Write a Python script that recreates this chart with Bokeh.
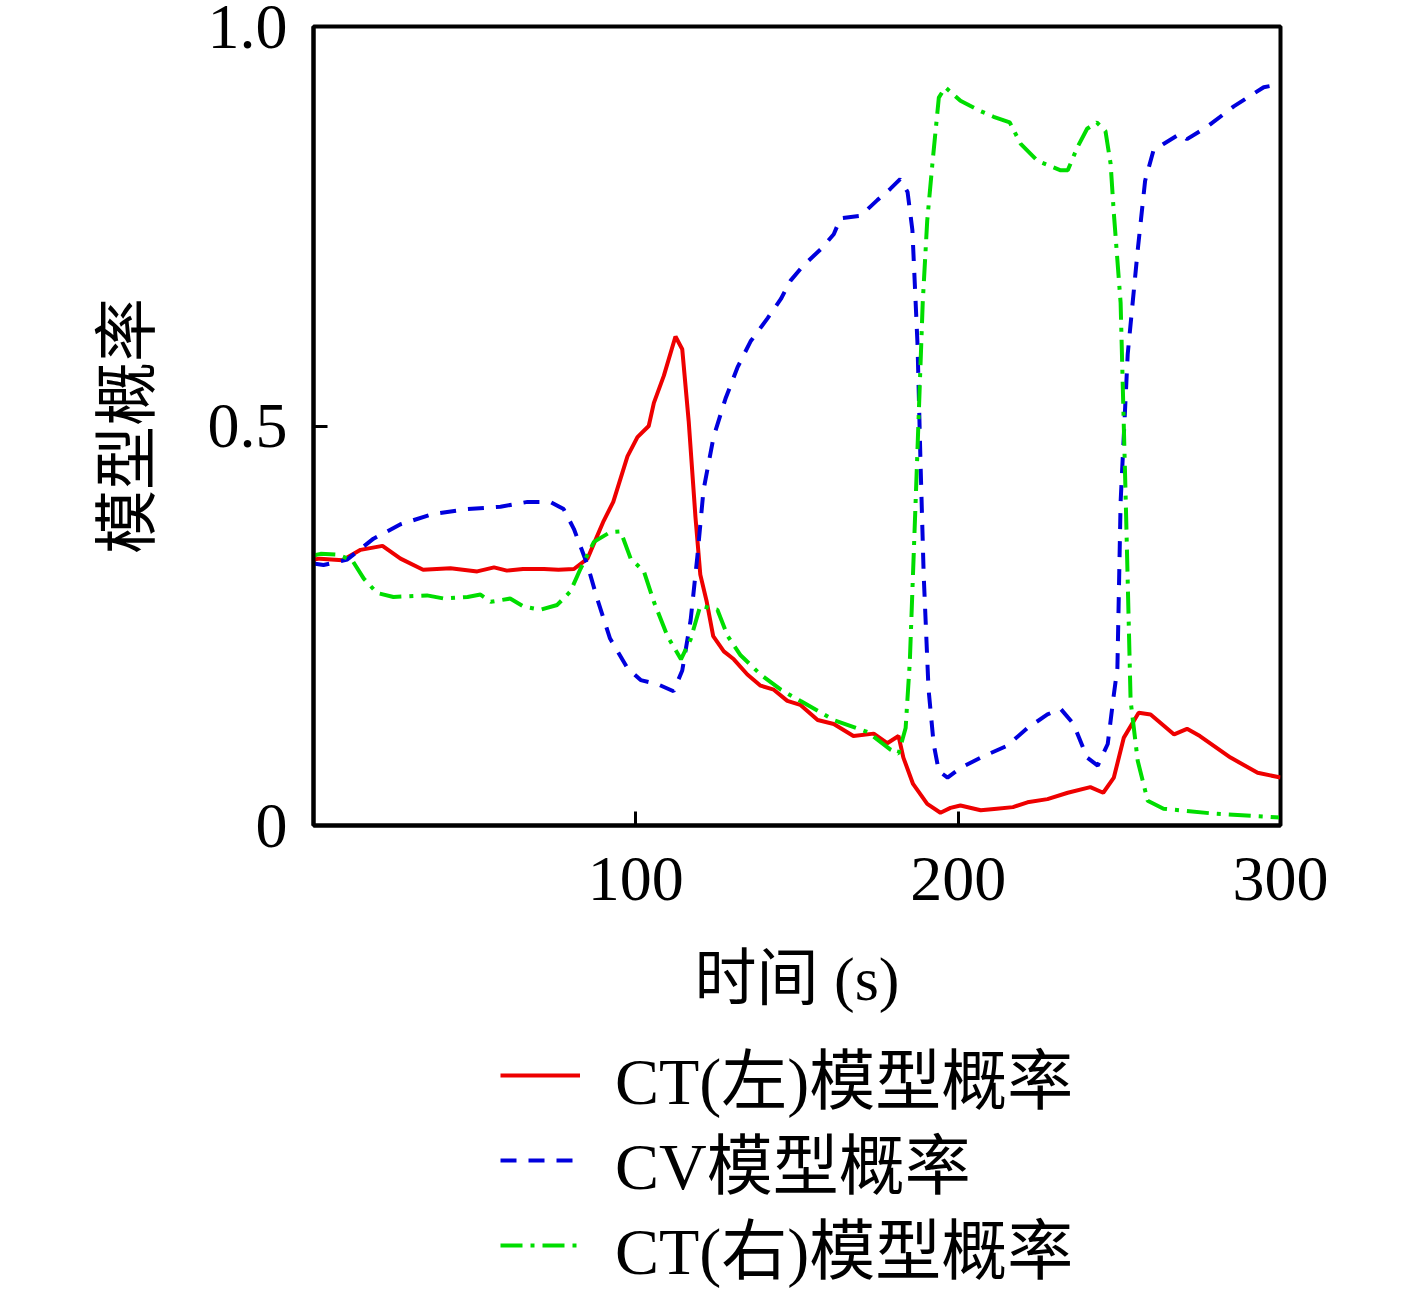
from bokeh.plotting import figure
from bokeh.layouts import column
from bokeh.models import Range1d, FixedTicker, Legend, LegendItem
from bokeh.embed import file_html
from bokeh.resources import INLINE

# ---- data ----
ct_left_x = [0, 2, 9, 14.6, 21.4, 27, 34, 42.5, 50.8, 56, 60, 65, 71.5, 76, 80.8, 85, 90, 93, 97.4,
             100.5, 104, 105.6, 108.7, 112.3, 114.4, 116.4, 118.5, 120, 122, 124, 127.3, 130.4, 134.6,
             138.7, 142.8, 147, 151, 156.4, 161.4, 167.5, 173.8, 178, 181.5, 183, 186, 190.4, 194.5,
             197.6, 200.7, 207, 212, 217, 221.5, 227.7, 234, 241, 245, 248.3, 251.4, 256, 259.7, 267,
             271, 275, 284.5, 292.9, 300]
ct_left_y = [0.333, 0.334, 0.332, 0.345, 0.350, 0.334, 0.320, 0.322, 0.318, 0.323, 0.319, 0.321, 0.321,
             0.320, 0.321, 0.334, 0.381, 0.405, 0.462, 0.486, 0.500, 0.529, 0.563, 0.612, 0.596, 0.506,
             0.386, 0.314, 0.280, 0.237, 0.218, 0.208, 0.189, 0.175, 0.170, 0.156, 0.151, 0.132, 0.127,
             0.112, 0.115, 0.103, 0.112, 0.085, 0.052, 0.027, 0.016, 0.022, 0.025, 0.019, 0.021, 0.023,
             0.029, 0.033, 0.041, 0.048, 0.041, 0.060, 0.110, 0.141, 0.139, 0.114, 0.121, 0.112, 0.085,
             0.066, 0.060]

cv_x = [0, 3.1, 10.5, 18.6, 27, 37.2, 47.8, 58, 66.4, 73.5, 77.6, 80.8, 85, 88, 92, 97.4, 101.5, 106.7,
        111.7, 114.4, 117, 119.1, 121, 124.1, 127.8, 131.5, 135.6, 140.9, 145, 148, 152, 157.3, 161.4,
        163.5, 169.7, 175, 179, 182, 184.3, 185.8, 187.4, 188.3, 189.3, 190.8, 192.4, 194, 196.7, 200.7,
        207, 215.3, 221.5, 227.7, 231.8, 235.8, 240, 243.3, 246.4, 248.3, 249.4, 250.4, 252.6, 255.7,
        258, 260.6, 263.7, 269, 271, 277.4, 285.5, 294.8, 300]
cv_y = [0.328, 0.326, 0.333, 0.359, 0.377, 0.390, 0.396, 0.399, 0.405, 0.405, 0.396, 0.371, 0.326, 0.284,
        0.234, 0.197, 0.182, 0.177, 0.168, 0.194, 0.257, 0.337, 0.420, 0.486, 0.534, 0.573, 0.606, 0.635,
        0.659, 0.682, 0.701, 0.721, 0.740, 0.760, 0.763, 0.783, 0.797, 0.809, 0.793, 0.745, 0.601, 0.457,
        0.314, 0.171, 0.102, 0.068, 0.060, 0.072, 0.085, 0.100, 0.122, 0.139, 0.146, 0.127, 0.085, 0.075,
        0.102, 0.164, 0.197, 0.405, 0.590, 0.720, 0.807, 0.845, 0.853, 0.866, 0.859, 0.875, 0.900, 0.924,
        0.928]

ct_right_x = [0, 2.2, 7.4, 12, 15.6, 19.7, 24.8, 35.2, 40.5, 47.8, 51.8, 55, 61, 65.2, 70.4, 75.6, 79.7,
              82.8, 87, 92, 95.3, 98.4, 102.5, 105.6, 109.8, 114, 117, 120, 125.3, 128.5, 132.5, 138.7,
              145, 151, 161.4, 171.9, 179, 181.5, 183.7, 185, 186.8, 189, 190.4, 192, 194, 196, 200.7,
              207, 211, 216, 219.4, 224.6, 231.8, 234, 237, 240, 243, 245.7, 247.3, 248.3, 250.4, 252,
              253.5, 255.7, 258.8, 263.7, 279, 300]
ct_right_y = [0.338, 0.340, 0.339, 0.332, 0.309, 0.291, 0.286, 0.288, 0.284, 0.286, 0.289, 0.280, 0.284,
              0.274, 0.270, 0.276, 0.293, 0.321, 0.355, 0.367, 0.368, 0.334, 0.318, 0.280, 0.237, 0.208,
              0.233, 0.275, 0.270, 0.237, 0.213, 0.189, 0.170, 0.156, 0.132, 0.117, 0.095, 0.090, 0.122,
              0.205, 0.405, 0.654, 0.757, 0.828, 0.911, 0.924, 0.907, 0.894, 0.887, 0.880, 0.853, 0.832,
              0.820, 0.820, 0.849, 0.872, 0.880, 0.869, 0.828, 0.766, 0.654, 0.405, 0.156, 0.081, 0.031,
              0.021, 0.015, 0.010]

x_ticks = [100, 200, 300]
y_ticks = [0, 0.5, 1.0]
y_tick_labels = {0: "0", 0.5: "0.5", 1: "1.0"}
labels = ["CT(左)模型概率", "CV模型概率", "CT(右)模型概率"]
x_title = "时间 (s)"
y_title = "模型概率"

series = [(ct_left_x, ct_left_y), (cv_x, cv_y), (ct_right_x, ct_right_y)]

FONT = "'Liberation Serif', 'Noto Sans CJK SC', serif"
STYLES = [dict(line_color="#ee0000", line_width=4),
          dict(line_color="#0000dd", line_width=4, line_dash="16 12"),
          dict(line_color="#00dd00", line_width=4, line_dash="22 8 4 8")]

p = figure(width=1400, height=1030,
           x_range=Range1d(0, 300), y_range=Range1d(0, 1),
           output_backend="svg", toolbar_location=None,
           min_border_left=313, min_border_top=26, min_border_right=120, min_border_bottom=205,
           background_fill_color="white", border_fill_color="white")

for (xs, ys), st in zip(series, STYLES):
    p.line(xs, ys, **st)

p.xgrid.visible = False
p.ygrid.visible = False
p.outline_line_color = "black"
p.outline_line_width = 4
p.outline_line_alpha = 1

p.xaxis.ticker = FixedTicker(ticks=x_ticks)
p.yaxis.ticker = FixedTicker(ticks=y_ticks)
p.yaxis.major_label_overrides = y_tick_labels
for ax in (p.xaxis, p.yaxis):
    ax.axis_line_width = 4
    ax.axis_line_color = "black"
    ax.major_tick_in = 14
    ax.major_tick_out = 0
    ax.major_tick_line_width = 3
    ax.minor_tick_line_color = None
    ax.major_label_text_font = FONT
    ax.major_label_text_font_size = "64px"
    ax.major_label_text_color = "black"
    ax.axis_label_text_font = FONT
    ax.axis_label_text_font_style = "normal"
    ax.axis_label_text_color = "black"

p.xaxis.axis_label = x_title
p.yaxis.axis_label = y_title
p.xaxis.axis_label_text_font_size = "62px"
p.yaxis.axis_label_text_font_size = "64px"
p.xaxis.major_label_standoff = 32
p.xaxis.axis_label_standoff = 42
p.yaxis.major_label_standoff = 26
p.yaxis.axis_label_standoff = 42

# legend panel below the plot (its lines lie outside its visible range; only the legend shows)
p2 = figure(width=1400, height=270, x_range=Range1d(0, 300), y_range=Range1d(5, 6),
            output_backend="svg", toolbar_location=None,
            x_axis_type=None, y_axis_type=None, min_border=0,
            outline_line_color=None, background_fill_color="white", border_fill_color="white")
p2.xgrid.visible = False
p2.ygrid.visible = False
lr = [p2.line(xs, ys, **st) for (xs, ys), st in zip(series, STYLES)]
row_bottoms = [177, 92, 7]  # one legend row each, stacked downward
for lab, r, yb in zip(labels, lr, row_bottoms):
    lg = Legend(items=[LegendItem(label=lab, renderers=[r])],
                location=(187, yb), orientation="vertical",
                label_text_font=FONT, label_text_font_size="66px", label_text_color="black",
                glyph_width=80, glyph_height=40, label_standoff=35,
                spacing=0, padding=0, margin=0,
                border_line_color=None, background_fill_alpha=0)
    p2.add_layout(lg, "center")

open("out.html", "w").write(file_html(column(p, p2, spacing=0), INLINE))
